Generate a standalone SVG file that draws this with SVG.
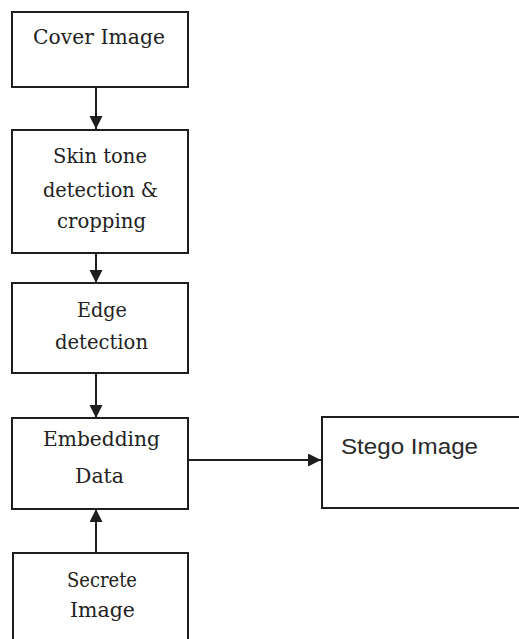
<svg xmlns="http://www.w3.org/2000/svg" width="519" height="639" viewBox="0 0 519 639">
  <style>
    .box { fill: #ffffff; stroke: #1e1e1e; stroke-width: 2; }
    .lbl { font-family: "DejaVu Serif", "Liberation Serif", "Noto Serif", serif; font-size: 21px; fill: #222222; }
    .lbl2 { font-family: "Liberation Sans", "Open Sans", sans-serif; font-size: 22px; fill: #2a2a2a; }
    .conn { stroke: #1e1e1e; stroke-width: 2; fill: none; marker-end: url(#ah); }
  </style>
  <defs>
    <marker id="ah" markerUnits="userSpaceOnUse" markerWidth="14" markerHeight="14" refX="13" refY="6.5" orient="auto">
      <path d="M0,0 L13,6.5 L0,13 z" fill="#1e1e1e"/>
    </marker>
  </defs>
  <rect x="0" y="0" width="519" height="639" fill="#ffffff"/>

  <g id="connectors">
    <line class="conn" x1="96" y1="88" x2="96" y2="129"/>
    <line class="conn" x1="96" y1="253" x2="96" y2="283"/>
    <line class="conn" x1="96" y1="373" x2="96" y2="418"/>
    <line class="conn" x1="96" y1="553" x2="96" y2="509"/>
    <line class="conn" x1="188" y1="460" x2="321" y2="460"/>
  </g>

  <g id="cover-image">
    <rect class="box" x="12" y="12" width="176" height="75"/>
    <text class="lbl" x="33" y="44" textLength="132" lengthAdjust="spacingAndGlyphs">Cover Image</text>
  </g>

  <g id="skin-tone">
    <rect class="box" x="12" y="130" width="176" height="123"/>
    <text class="lbl" x="53" y="163" textLength="94" lengthAdjust="spacingAndGlyphs">Skin tone</text>
    <text class="lbl" x="43" y="197" textLength="115" lengthAdjust="spacingAndGlyphs">detection &amp;</text>
    <text class="lbl" x="57" y="228" textLength="89" lengthAdjust="spacingAndGlyphs">cropping</text>
  </g>

  <g id="edge-detection">
    <rect class="box" x="12" y="283" width="176" height="90"/>
    <text class="lbl" x="77" y="317" textLength="50" lengthAdjust="spacingAndGlyphs">Edge</text>
    <text class="lbl" x="55" y="349" textLength="93" lengthAdjust="spacingAndGlyphs">detection</text>
  </g>

  <g id="embedding-data">
    <rect class="box" x="12" y="418" width="176" height="91"/>
    <text class="lbl" x="43" y="446" textLength="117" lengthAdjust="spacingAndGlyphs">Embedding</text>
    <text class="lbl" x="75" y="483" textLength="49" lengthAdjust="spacingAndGlyphs">Data</text>
  </g>

  <g id="secrete-image">
    <rect class="box" x="13" y="553" width="175" height="100"/>
    <text class="lbl" x="67" y="587" textLength="70" lengthAdjust="spacingAndGlyphs">Secrete</text>
    <text class="lbl" x="70" y="617" textLength="65" lengthAdjust="spacingAndGlyphs">Image</text>
  </g>

  <g id="stego-image">
    <rect class="box" x="322" y="417" width="210" height="91"/>
    <text class="lbl2" x="341" y="454" textLength="137" lengthAdjust="spacingAndGlyphs">Stego Image</text>
  </g>
</svg>
